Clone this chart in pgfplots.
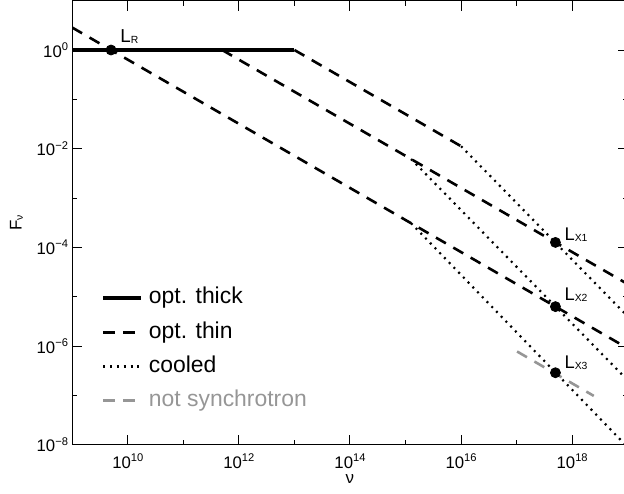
\documentclass[border=0pt]{standalone}
\usepackage{fontspec}
\setmainfont{Liberation Sans}
\usepackage{pgfplots}
\pgfplotsset{compat=1.18}
\usetikzlibrary{calc}
\definecolor{nsgray}{RGB}{150,150,150}
% tick label 10^n and small subscripts
\newcommand\tl[1]{10\raisebox{3.4bp}{\fontsize{5.6}{6}\selectfont #1}}
\newcommand\sub[1]{\raisebox{-0.6bp}{\fontsize{5.2}{6}\selectfont #1}}
\pgfplotsset{
  thk/.style={black, line width=1.6bp},
  thn/.style={black, line width=1.3bp, dash pattern=on 5.7bp off 4.3bp},
  cld/.style={black, line width=1.1bp, dash pattern=on 1bp off 2.4bp},
  nsy/.style={nsgray, line width=1.3bp, dash pattern=on 5.7bp off 4.3bp},
}
\begin{document}
\begin{tikzpicture}
\begin{axis}[
  name=main,
  xmode=log, ymode=log,
  scale only axis,
  width=277.7bp, height=222bp,
  xmin=1e9, xmax=1e19, ymin=1e-8, ymax=10,
  axis line style={line width=0.5bp},
  tick align=inside,
  tick style={black, line width=0.5bp},
  major tick length=5bp, minor tick length=2.5bp,
  xtick={1e10,1e12,1e14,1e16,1e18},
  minor xtick={1e11,1e13,1e15,1e17},
  xticklabels={\tl{10},\tl{12},\tl{14},\tl{16},\tl{18}},
  ytick={1e-8,1e-6,1e-4,1e-2,1},
  minor ytick={1e-7,1e-5,1e-3,1e-1},
  yticklabels={\tl{−8},\tl{−6},\tl{−4},\tl{−2},\tl{0}},
  ticklabel style={font=\fontsize{8.4}{10}\selectfont, inner sep=0pt},
  xticklabel style={yshift=-4.4bp},
  yticklabel style={xshift=-1.9bp},
  xlabel={ν}, ylabel={F\sub{ν}},
  label style={font=\fontsize{8.5}{10}\selectfont, inner sep=0pt},
  xlabel style={at={(axis description cs:0.5,0)}, anchor=base, yshift=-19.3bp},
  ylabel style={at={(axis description cs:-0.0909,0.5)}, anchor=base},
  legend style={at={(axis description cs:0.0531,0.3545)}, anchor=north west,
    draw=none, fill=none, inner sep=0pt, outer sep=0pt,
    row sep=6.4bp, column sep=3.2bp, font=\fontsize{11.5}{14}\selectfont,
    nodes={inner sep=0pt, text height=8.3bp, text depth=2.4bp}},
  legend cell align=left,
  legend image code/.code={\draw[#1] (0bp,0bp) -- (18.8bp,0bp);},
]
\addlegendimage{thk}
\addlegendentry{opt. thick}
\addlegendimage{thn}
\addlegendentry{opt. thin}
\addlegendimage{cld}
\addlegendentry{cooled}
\addlegendimage{nsy}
\addlegendentry{\textcolor{nsgray}{not synchrotron}}

% optically thick
\addplot[thk, forget plot] coordinates {(1e9,1) (1e13,1)};
% optically thin
\addplot[thn, forget plot] coordinates {(1e13,1) (1e16,1.122e-2)};
\addplot[thn, forget plot] coordinates {(5e11,1) (1e19,1.80e-5)};
\addplot[thn, forget plot] coordinates {(1e9,2.85) (1e19,9.0e-7)};
% cooled
\addplot[cld, forget plot] coordinates {(1e16,1.122e-2) (1e19,3.98e-6)};
\addplot[cld, forget plot] coordinates {(1.26e15,6.17e-3) (1e19,2.02e-7)};
\addplot[cld, forget plot] coordinates {(1.26e15,3.09e-4) (1e19,8.9e-9)};
% luminosity points
\addplot[only marks, mark=*, mark size=2.5bp, black, forget plot]
  coordinates {(5e9,1) (5e17,1.26e-4) (5e17,6.3e-6) (5e17,2.88e-7)};
% not synchrotron
\addplot[nsy, forget plot] coordinates {(1.02e17,7.76e-7) (2.45e18,9.77e-8)};

\node[anchor=base west, inner sep=0pt, font=\fontsize{9.4}{11}\selectfont] at (axis cs:7.26e9,1.452) {L\sub{R}};
\node[anchor=base west, inner sep=0pt, font=\fontsize{9.2}{11}\selectfont] at (axis cs:7.18e17,1.41e-4) {L\sub{X1}};
\node[anchor=base west, inner sep=0pt, font=\fontsize{9.2}{11}\selectfont] at (axis cs:7.18e17,8.57e-6) {L\sub{X2}};
\node[anchor=base west, inner sep=0pt, font=\fontsize{9.2}{11}\selectfont] at (axis cs:7.18e17,3.54e-7) {L\sub{X3}};
\end{axis}
\pgfresetboundingbox
\path[use as bounding box] ($(main.south west)+(-36.1bp,-24.15bp)$) rectangle ($(main.north east)+(-1.85bp,0.33bp)$);
\end{tikzpicture}
\end{document}
